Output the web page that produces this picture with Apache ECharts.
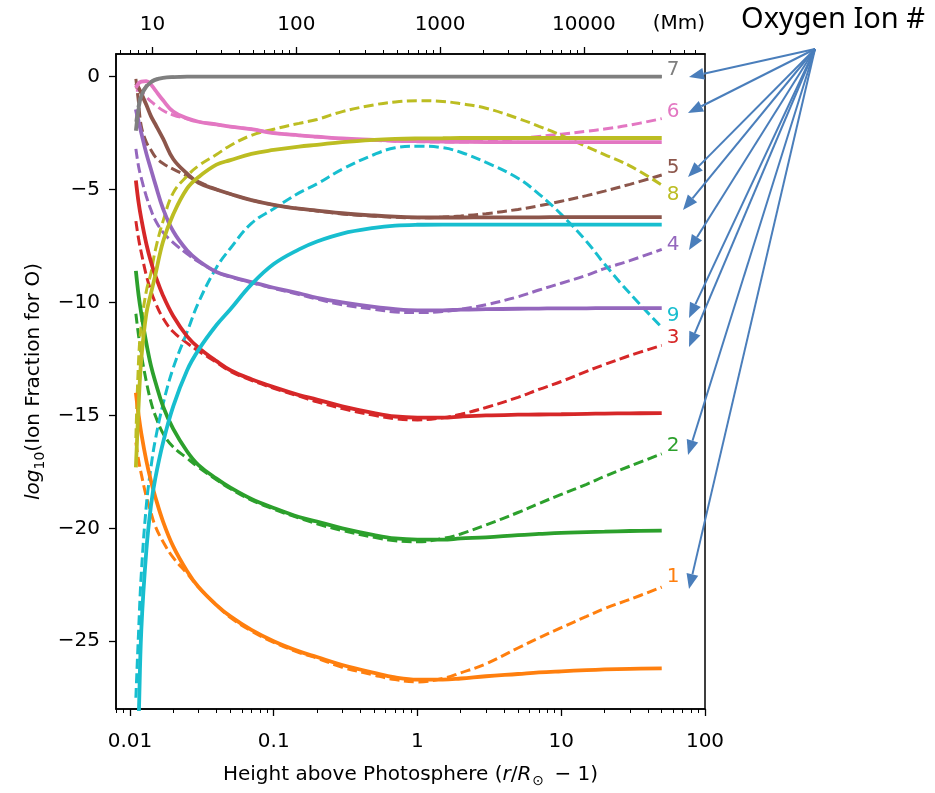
<!DOCTYPE html>
<html><head><meta charset="utf-8">
<script src="https://cdn.jsdelivr.net/npm/echarts@6/dist/echarts.min.js"></script>
<style>html,body{margin:0;padding:0;background:#fff}#c{width:935px;height:793px}</style>
</head><body><div id="c"></div>
<script>
// ---------------- data ----------------
const heights = [0.011, 0.0115, 0.012, 0.013, 0.014, 0.015, 0.017, 0.02, 0.025, 0.03, 0.04, 0.05, 0.07, 0.1, 0.15, 0.2, 0.3, 0.5, 0.7, 1, 1.5, 2, 3, 5, 7, 10, 15, 20, 30, 50];

const ion1Solid  = [-14.0, -15.0, -15.8, -17.0, -17.9, -18.6, -19.7, -20.8, -21.9, -22.6, -23.4, -23.9, -24.5, -25.0, -25.45, -25.7, -26.05, -26.4, -26.6, -26.7, -26.7, -26.65, -26.55, -26.45, -26.38, -26.33, -26.28, -26.25, -26.22, -26.2];
const ion1Dashed = [-16.2, -17.0, -17.6, -18.6, -19.3, -19.9, -20.6, -21.3, -22.0, -22.6, -23.4, -23.95, -24.55, -25.05, -25.5, -25.75, -26.15, -26.5, -26.7, -26.8, -26.65, -26.4, -26.0, -25.3, -24.85, -24.4, -23.9, -23.55, -23.15, -22.6];
const ion2Solid  = [-8.6, -9.7, -10.5, -11.8, -12.8, -13.5, -14.6, -15.6, -16.6, -17.2, -17.8, -18.2, -18.7, -19.1, -19.5, -19.7, -20.0, -20.3, -20.45, -20.5, -20.5, -20.45, -20.4, -20.3, -20.25, -20.2, -20.17, -20.15, -20.12, -20.1];
const ion2Dashed = [-10.5, -11.5, -12.3, -13.5, -14.4, -15.0, -15.8, -16.4, -16.9, -17.3, -17.85, -18.25, -18.75, -19.15, -19.55, -19.8, -20.1, -20.4, -20.55, -20.6, -20.45, -20.25, -19.85, -19.3, -18.9, -18.5, -18.05, -17.7, -17.25, -16.7];
const ion3Solid  = [-4.6, -5.6, -6.3, -7.4, -8.2, -8.8, -9.7, -10.6, -11.5, -12.0, -12.6, -13.0, -13.4, -13.75, -14.1, -14.3, -14.6, -14.9, -15.05, -15.1, -15.1, -15.05, -15.0, -14.97, -14.96, -14.95, -14.93, -14.92, -14.91, -14.9];
const ion3Dashed = [-6.4, -7.2, -7.8, -8.8, -9.5, -10.0, -10.7, -11.3, -11.8, -12.15, -12.65, -13.05, -13.45, -13.8, -14.15, -14.4, -14.7, -15.0, -15.15, -15.2, -15.1, -14.95, -14.65, -14.2, -13.85, -13.5, -13.05, -12.75, -12.35, -11.9];
const ion4Solid  = [-1.45, -2.0, -2.5, -3.4, -4.1, -4.75, -5.85, -6.85, -7.7, -8.15, -8.65, -8.85, -9.1, -9.35, -9.6, -9.8, -10.0, -10.2, -10.3, -10.35, -10.35, -10.32, -10.3, -10.28, -10.27, -10.26, -10.26, -10.25, -10.25, -10.25];
const ion4Dashed = [-3.2, -4.0, -4.5, -5.3, -5.9, -6.35, -6.9, -7.35, -7.85, -8.2, -8.65, -8.87, -9.12, -9.38, -9.65, -9.85, -10.1, -10.3, -10.42, -10.45, -10.4, -10.3, -10.1, -9.75, -9.45, -9.15, -8.8, -8.5, -8.15, -7.65];
const ion5Solid  = [-0.3, -0.5, -0.75, -1.25, -1.75, -2.1, -2.75, -3.65, -4.3, -4.7, -5.0, -5.2, -5.47, -5.68, -5.85, -5.93, -6.05, -6.15, -6.2, -6.23, -6.24, -6.24, -6.23, -6.23, -6.23, -6.22, -6.22, -6.22, -6.22, -6.22];
const ion5Dashed = [-0.1, -1.2, -2.2, -2.9, -3.25, -3.55, -3.85, -4.1, -4.4, -4.65, -5.0, -5.2, -5.47, -5.68, -5.85, -5.95, -6.08, -6.18, -6.23, -6.25, -6.22, -6.17, -6.07, -5.88, -5.72, -5.52, -5.27, -5.07, -4.77, -4.36];
const ion6Solid  = [-0.5, -0.3, -0.22, -0.2, -0.35, -0.6, -1.05, -1.55, -1.85, -2.0, -2.12, -2.22, -2.33, -2.5, -2.6, -2.66, -2.74, -2.8, -2.84, -2.86, -2.88, -2.89, -2.9, -2.9, -2.9, -2.9, -2.9, -2.9, -2.9, -2.9];
const ion6Dashed = [-0.6, -0.6, -0.7, -0.9, -1.1, -1.25, -1.5, -1.7, -1.87, -2.0, -2.12, -2.22, -2.33, -2.5, -2.6, -2.67, -2.75, -2.82, -2.86, -2.88, -2.9, -2.9, -2.85, -2.75, -2.65, -2.55, -2.42, -2.32, -2.15, -1.86];
const ion7Solid  = [-2.4, -1.4, -0.85, -0.45, -0.25, -0.15, -0.06, -0.02, 0, 0, 0, 0, 0, 0, 0, 0, 0, 0, 0, 0, 0, 0, 0, 0, 0, 0, 0, 0, 0, 0];
const ion7Dashed = [-2.0, -1.2, -0.75, -0.4, -0.22, -0.12, -0.05, -0.02, 0, 0, 0, 0, 0, 0, 0, 0, 0, 0, 0, 0, 0, 0, 0, 0, 0, 0, 0, 0, 0, 0];
const ion8Solid  = [-17.3, -14.5, -12.5, -10.5, -9.6, -8.8, -7.3, -6.1, -4.95, -4.45, -3.9, -3.7, -3.42, -3.25, -3.1, -3.02, -2.9, -2.8, -2.76, -2.74, -2.73, -2.72, -2.72, -2.72, -2.72, -2.72, -2.72, -2.72, -2.72, -2.72];
const ion8Dashed = [-16.0, -12.5, -11.0, -9.5, -8.7, -7.7, -6.4, -5.15, -4.4, -3.95, -3.45, -3.05, -2.6, -2.33, -2.07, -1.9, -1.55, -1.25, -1.12, -1.07, -1.1, -1.2, -1.4, -1.85, -2.2, -2.6, -3.1, -3.45, -3.95, -4.8];
const ion9Solid  = [-32, -28.5, -24.5, -21.0, -19.0, -17.8, -16.2, -14.6, -13.0, -12.1, -11.0, -10.3, -9.2, -8.3, -7.65, -7.3, -6.95, -6.7, -6.6, -6.56, -6.55, -6.55, -6.55, -6.55, -6.55, -6.55, -6.55, -6.55, -6.55, -6.55];
const ion9Dashed = [-27.5, -24.5, -22.0, -19.0, -17.3, -16.1, -14.5, -12.9, -11.3, -10.0, -8.45, -7.6, -6.5, -5.85, -5.15, -4.75, -4.1, -3.45, -3.15, -3.08, -3.15, -3.35, -3.8, -4.5, -5.2, -6.1, -7.3, -8.3, -9.6, -11.1];

const ionNames = ['1', '2', '3', '4', '5', '6', '7', '8', '9'];
const solidSets = [ion1Solid, ion2Solid, ion3Solid, ion4Solid, ion5Solid, ion6Solid, ion7Solid, ion8Solid, ion9Solid];
const dashedSets = [ion1Dashed, ion2Dashed, ion3Dashed, ion4Dashed, ion5Dashed, ion6Dashed, ion7Dashed, ion8Dashed, ion9Dashed];

const yTicks = [-25, -20, -15, -10, -5, 0];
const bottomTicks = [0.01, 0.1, 1, 10, 100];
const topTicksMm = [10, 100, 1000, 10000];
const solarRadiusMm = 696;
const xRange = [0.008, 100];
const yRange = [-28, 1];

// ---------------- styles ----------------
const colors = ['#ff7f0e', '#2ca02c', '#d62728', '#9467bd', '#8c564b', '#e377c2', '#7f7f7f', '#bcbd22', '#17becf'];
const labelDy = [-10, -8, -8, -5, -7, -7, -7, 10, -11];
const FONT = 'DejaVu Sans';

const lg = v => Math.log10(v);
const xMin = lg(xRange[0]), xMax = lg(xRange[1]);

const bottomMinor = [];
for (let e = -3; e <= 2; e++) for (let k = 2; k <= 9; k++) bottomMinor.push(lg(k * Math.pow(10, e)));
const topMinor = [];
for (let e = 0; e <= 4; e++) for (let k = 2; k <= 9; k++) topMinor.push(lg(k * Math.pow(10, e) / solarRadiusMm));
const inRange = v => v >= xMin - 1e-9 && v <= xMax + 1e-9;

const bottomMajorVals = bottomTicks.map(lg);
const topMajorVals = topTicksMm.map(m => lg(m / solarRadiusMm));

function fmtBottom(v) {
  const i = bottomMajorVals.findIndex(t => Math.abs(t - v) < 1e-6);
  return i >= 0 ? String(bottomTicks[i]) : '';
}
function fmtTop(v) {
  const i = topMajorVals.findIndex(t => Math.abs(t - v) < 1e-6);
  return i >= 0 ? String(topTicksMm[i]) : '';
}

const baseX = {
  type: 'value', min: xMin, max: xMax, gridIndex: 0,
  splitLine: { show: false }, axisPointer: { show: false }
};

const xAxes = [
  Object.assign({}, baseX, {
    position: 'bottom',
    axisLine: { show: true, onZero: false, lineStyle: { color: '#000', width: 1.5 } },
    axisTick: { show: true, length: 7, lineStyle: { color: '#000', width: 1.3 }, customValues: bottomMajorVals },
    axisLabel: { show: true, customValues: bottomMajorVals, formatter: fmtBottom, fontSize: 20, fontFamily: FONT, color: '#000', margin: 23 },
    name: '{n|Height above Photosphere (}{i|r}{n|/}{i|R}{s|⊙}{n| − 1)}',
    nameLocation: 'middle', nameGap: 53,
    nameTextStyle: {
      fontSize: 20, fontFamily: FONT, color: '#000',
      rich: {
        n: { fontSize: 20, fontFamily: FONT, color: '#000', lineHeight: 26 },
        i: { fontSize: 20, fontFamily: FONT, fontStyle: 'italic', color: '#000', lineHeight: 26 },
        s: { fontSize: 14, fontFamily: FONT, color: '#000', verticalAlign: 'bottom', lineHeight: 26, padding: [0, 4, 0, 1] }
      }
    }
  }),
  Object.assign({}, baseX, {
    position: 'bottom',
    axisLine: { show: false, onZero: false },
    axisTick: { show: true, length: 4, lineStyle: { color: '#000', width: 1 }, customValues: bottomMinor.filter(inRange) },
    axisLabel: { show: false }
  }),
  Object.assign({}, baseX, {
    position: 'top',
    axisLine: { show: true, onZero: false, lineStyle: { color: '#000', width: 1.5 } },
    axisTick: { show: true, length: 7, lineStyle: { color: '#000', width: 1.3 }, customValues: topMajorVals },
    axisLabel: { show: true, customValues: topMajorVals, formatter: fmtTop, fontSize: 20, fontFamily: FONT, color: '#000', margin: 19 }
  }),
  Object.assign({}, baseX, {
    position: 'top',
    axisLine: { show: false, onZero: false },
    axisTick: { show: true, length: 4, lineStyle: { color: '#000', width: 1 }, customValues: topMinor.filter(inRange) },
    axisLabel: { show: false }
  })
];

const series = [];
for (let i = 0; i < 9; i++) {
  series.push({
    type: 'line', name: 'O' + ionNames[i] + ' solid', xAxisIndex: 0, yAxisIndex: 0,
    data: heights.map((h, j) => [lg(h), solidSets[i][j]]),
    showSymbol: false, symbol: 'none', smooth: 0.4,
    lineStyle: { color: colors[i], width: 3.8 }, z: 3
  });
  series.push({
    type: 'line', name: 'O' + ionNames[i] + ' dashed', xAxisIndex: 0, yAxisIndex: 0,
    data: heights.map((h, j) => [lg(h), dashedSets[i][j]]),
    showSymbol: false, symbol: 'none', smooth: 0.4,
    lineStyle: { color: colors[i], width: 3.0, type: [10, 4.5] }, z: 2,
    endLabel: {
      show: true, formatter: ionNames[i], color: colors[i], fontSize: 20, fontFamily: FONT,
      distance: 5, offset: [0, labelDy[i]]
    }
  });
}

// annotation arrows (PowerPoint style overlay)
const arrowOrigin = [815, 49];
const arrowTips = [[689, 77], [688, 113], [688, 177], [683, 210], [689, 250], [689, 318], [689, 347], [688, 455], [689, 589]];
const graphics = [];
arrowTips.forEach(t => {
  const dx = t[0] - arrowOrigin[0], dy = t[1] - arrowOrigin[1];
  const L = Math.hypot(dx, dy), ux = dx / L, uy = dy / L;
  const hl = 15, hw = 6;
  const bx = t[0] - ux * hl, by = t[1] - uy * hl;
  graphics.push({ type: 'line', shape: { x1: arrowOrigin[0], y1: arrowOrigin[1], x2: bx, y2: by }, style: { stroke: '#4a7ebb', lineWidth: 2 }, z: 100 });
  graphics.push({ type: 'polygon', shape: { points: [[t[0], t[1]], [bx - uy * hw, by + ux * hw], [bx + uy * hw, by - ux * hw]] }, style: { fill: '#4a7ebb' }, z: 100 });
});
graphics.push({ type: 'text', left: 741, top: 5, style: { text: 'Oxygen Ion #', font: '29px "Noto Sans"', fill: '#000' }, z: 100 });
graphics.push({ type: 'text', right: 230, top: 14, style: { text: '(Mm)', font: '20px "DejaVu Sans"', fill: '#000' }, z: 100 });

const chart = echarts.init(document.getElementById('c'), null, { renderer: 'canvas' });
chart.setOption({
  animation: false,
  backgroundColor: '#fff',
  grid: { left: 116, right: 230, top: 54, bottom: 72, show: true, borderColor: '#000', borderWidth: 1.5, backgroundColor: 'transparent' },
  xAxis: xAxes,
  yAxis: {
    type: 'value', min: yRange[0], max: yRange[1], position: 'left',
    splitLine: { show: false },
    axisLine: { show: true, onZero: false, lineStyle: { color: '#000', width: 1.5 } },
    axisTick: { show: true, length: 7, lineStyle: { color: '#000', width: 1.3 }, customValues: yTicks },
    axisLabel: { show: true, customValues: yTicks, fontSize: 20, fontFamily: FONT, color: '#000', margin: 16,
      formatter: v => (v < 0 ? '\u2212' + (-v) : String(v)) },
    name: '{i|log}{s|10}{n|(Ion Fraction for O)}',
    nameLocation: 'middle', nameGap: 57,
    nameTextStyle: {
      fontSize: 20, fontFamily: FONT, color: '#000',
      rich: {
        n: { fontSize: 20, fontFamily: FONT, color: '#000', lineHeight: 26 },
        i: { fontSize: 20, fontFamily: FONT, fontStyle: 'italic', color: '#000', lineHeight: 26 },
        s: { fontSize: 14, fontFamily: FONT, color: '#000', verticalAlign: 'bottom', lineHeight: 26 }
      }
    }
  },
  series: series,
  graphic: graphics
});
</script>
</body></html>
